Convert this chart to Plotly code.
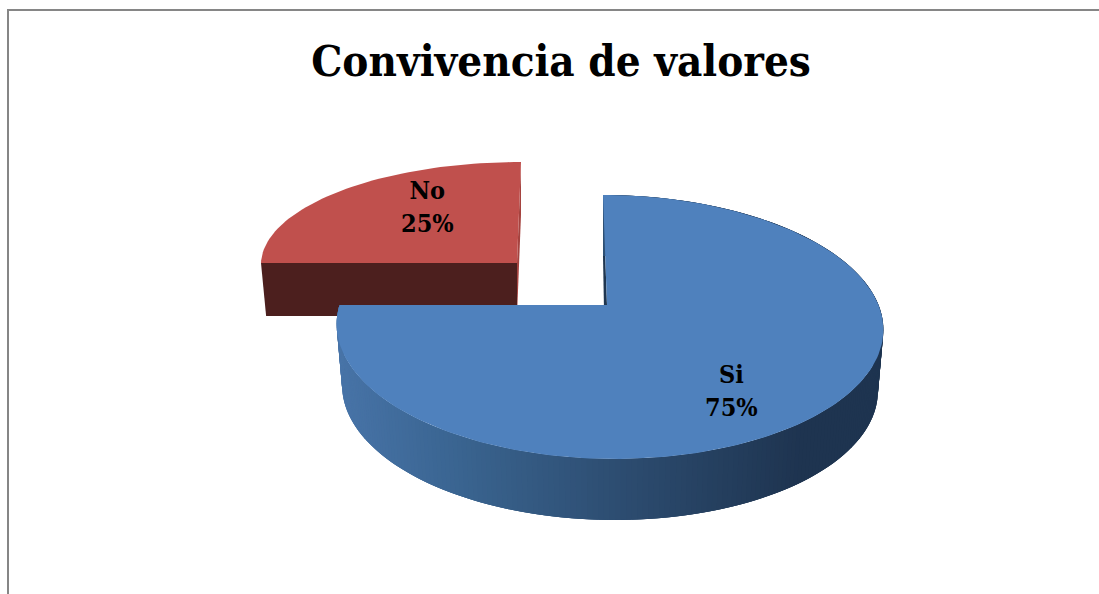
import numpy as np
import plotly.graph_objects as go

# datos
categorias = ["Si", "No"]
valores = [75, 25]
titulo = "Convivencia de valores"

azul_tapa = "#4f81bd"
rojo_tapa = "#c0504d"
rojo_corte = "#4c1f1e"
rojo_pared = "#a5433f"
azul_pared_int = "#1f3650"
# gradiente de la pared exterior: posicion en x (px) y color
grad_x = [340, 450, 620, 800, 880]
grad_r = [72, 59, 45, 30, 30]
grad_g = [116, 102, 77, 52, 52]
grad_b = [168, 147, 113, 80, 80]

# parametros de la perspectiva de cada porcion (px de la ventana)
pie_si = dict(cx=609, vx=607, cy=305, a=269.5, b=128.3, k=1 / 6, sesgo=-6, caida=61, esc=0.98)
pie_no = dict(cx=517, vx=517, cy=263, a=256, b=101, k=0.0, sesgo=4, caida=53, esc=0.98)


def proyectar(p, grados, abajo=False):
    t = np.radians(grados)
    u, v = np.sin(t), np.cos(t)
    d = 1 + p["k"] * v
    esc = p["esc"] if abajo else 1
    x = p["cx"] + esc * p["a"] * u / d + p["sesgo"] * v
    y = p["cy"] - p["b"] * v / d + (p["caida"] if abajo else 0)
    return x, y


def poligono(fig, x, y, color):
    fig.add_trace(go.Scatter(x=list(x), y=list(y), mode="lines", fill="toself", fillcolor=color,
                             line=dict(color=color, width=0), hoverinfo="skip", showlegend=False))


fig = go.Figure()

fin_si = 360 * valores[0] / sum(valores)

# porcion roja
ang = np.linspace(fin_si, 360, 60)
x0, y0 = proyectar(pie_no, 360)
x1, y1 = proyectar(pie_no, 360, True)
ax, ay = pie_no["vx"], pie_no["cy"]
poligono(fig, [x0, x1, ax, ax, x0], [y0, y1, ay + pie_no["caida"], ay, y0], rojo_pared)
xi, yi = proyectar(pie_no, fin_si)
xj, yj = proyectar(pie_no, fin_si, True)
poligono(fig, [xi, xj, ax, ax, xi], [yi, yj, ay + pie_no["caida"], ay, yi], rojo_corte)
xa, ya = proyectar(pie_no, ang)
poligono(fig, np.r_[ax, xa, ax], np.r_[ay, ya, ay], rojo_tapa)

# porcion azul: pared interior
ax, ay = pie_si["vx"], pie_si["cy"]
x0, y0 = proyectar(pie_si, 0)
x1, y1 = proyectar(pie_si, 0, True)
poligono(fig, [x0, x1, ax - 2, ax, x0], [y0, y1, ay + pie_si["caida"], ay, y0], azul_pared_int)

# pared exterior por tramos, cada uno solapa al siguiente para que no se vean juntas
pasos = np.linspace(0, fin_si, 271)
for g0, g1 in zip(pasos[:-1], pasos[1:]):
    g2 = min(g1 + 2, fin_si)
    xs0, ys0 = proyectar(pie_si, g0)
    xs1, ys1 = proyectar(pie_si, g2)
    xb0, yb0 = proyectar(pie_si, g0, True)
    xb1, yb1 = proyectar(pie_si, g2, True)
    xm = proyectar(pie_si, g0, True)[0]
    r = np.interp(xm, grad_x, grad_r)
    g = np.interp(xm, grad_x, grad_g)
    b = np.interp(xm, grad_x, grad_b)
    poligono(fig, [xs0, xs1, xb1, xb0, xs0], [ys0, ys1, yb1, yb0, ys0], f"rgb({r:.0f},{g:.0f},{b:.0f})")

# tapa azul
ang = np.linspace(0, fin_si, 200)
xa, ya = proyectar(pie_si, ang)
poligono(fig, np.r_[ax, xa, ax], np.r_[ay, ya, ay], azul_tapa)

# etiquetas
fuente = "DejaVu Serif Condensed, DejaVu Serif, serif"
for nombre, valor, lx, ly in zip(categorias, valores, [731, 427], [391, 207]):
    fig.add_annotation(x=lx, y=ly, text=f"<b>{nombre}<br>{valor}%</b>", showarrow=False,
                       font=dict(family=fuente, size=25, color="black"))

# marco del grafico
fig.add_shape(type="line", x0=8, x1=8, y0=9, y1=594, line=dict(color="#868686", width=2))
fig.add_shape(type="line", x0=7, x1=1099, y0=10, y1=10, line=dict(color="#868686", width=2))

fig.update_layout(
    width=1099, height=594,
    margin=dict(l=0, r=0, t=0, b=0),
    paper_bgcolor="white", plot_bgcolor="white",
    title=dict(text=f"<b>{titulo}</b>", x=561 / 1099, xanchor="center", y=1 - 61 / 594, yanchor="middle",
               font=dict(family=fuente, size=43.5, color="black")),
    xaxis=dict(range=[0, 1099], visible=False, fixedrange=True),
    yaxis=dict(range=[594, 0], visible=False, fixedrange=True),
)

# el body trae 8 px de margen por defecto
fig.write_html("out.html", config=dict(displayModeBar=False),
               post_script="document.body.style.margin='0';document.body.style.overflow='hidden';")
